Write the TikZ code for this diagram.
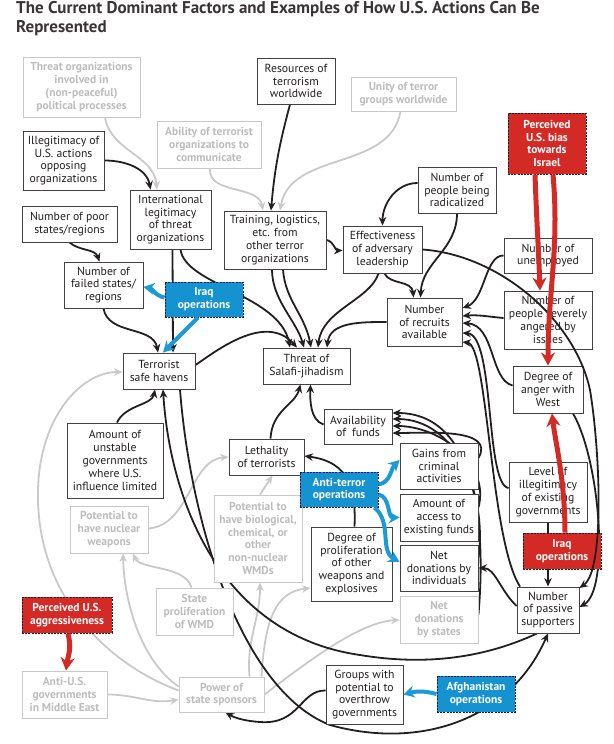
\documentclass[tikz,border=0pt]{standalone}
\usepackage{fontspec}
\setmainfont{PT Sans}
\usetikzlibrary{arrows.meta}
\pgfdeclarelayer{bg}
\pgfsetlayers{bg,main}
\definecolor{ink}{HTML}{231F20}
\definecolor{lgray}{HTML}{C9C9C9}
\definecolor{gtext}{HTML}{BDBDBD}
\definecolor{rfill}{HTML}{D42A26}
\definecolor{bfill}{HTML}{1592D0}
\definecolor{barrow}{HTML}{1C9AD6}
\tikzset{
  box/.style={draw=ink!85, line width=0.9pt, fill=white, align=center, inner sep=0pt, text=ink, font=\fontsize{11.7}{12.8}\selectfont},
  gbox/.style={box, draw=lgray, text=gtext, font=\fontsize{11.5}{12.8}\selectfont\bfseries},
  rbox/.style={box, fill=rfill, draw=ink, dash pattern=on 2pt off 1.2pt, text=white, font=\fontsize{11.5}{12.8}\selectfont\bfseries},
  bbox/.style={box, fill=bfill, draw=ink!70!blue, dash pattern=on 2pt off 1.2pt, text=white, font=\fontsize{11.5}{12.8}\selectfont\bfseries},
  arr/.style={draw=ink, line width=1.8pt, -{Stealth[length=8.5pt,width=7.5pt]}},
  garr/.style={draw=lgray, line width=1.8pt, -{Stealth[length=8.5pt,width=7.5pt]}},
  rarr/.style={draw=rfill, line width=5pt, -{Stealth[length=13pt,width=14pt]}},
  barr/.style={draw=barrow, line width=4pt, -{Stealth[length=11pt,width=12pt]}}
}
\begin{document}
\begin{tikzpicture}[x=1pt,y=-1pt]
\useasboundingbox (0,0) rectangle (613,744);
\node[anchor=north west, align=left, inner sep=0pt, text=ink!90, font=\fontsize{17}{18.5}\selectfont\bfseries] (title) at (16,1.5) {The Current Dominant Factors and Examples of How U.S. Actions Can Be\\Represented};

\node[gbox, minimum width=117pt, minimum height=60pt] (tpol) at (81.5,87) {Threat organizations\\involved in\\(non-peaceful)\\political processes};
\node[box, minimum width=81pt, minimum height=59pt] (illeg) at (63.5,160.5) {Illegitimacy of\\U.S. actions\\opposing\\organizations};
\node[gbox, minimum width=104pt, minimum height=47pt] (comm) at (209,144.5) {Ability of terrorist\\organizations to\\communicate};
\node[box, minimum width=78pt, minimum height=46pt] (res) at (296,81) {Resources of\\terrorism\\worldwide};
\node[gbox, minimum width=105pt, minimum height=34pt] (unity) at (403.5,94) {Unity of terror\\groups worldwide};
\node[rbox, minimum width=78pt, minimum height=61pt] (israel) at (547,143.5) {Perceived\\U.S. bias\\towards\\Israel};
\node[box, minimum width=78pt, minimum height=46pt] (radical) at (457,190) {Number of\\people being\\radicalized};
\node[box, minimum width=81pt, minimum height=59pt] (intl) at (170.5,219.5) {International\\legitimacy\\of threat\\organizations};
\node[box, minimum width=95pt, minimum height=36pt] (poor) at (69.5,224) {Number of poor\\states/regions};
\node[box, minimum width=102pt, minimum height=58pt] (train) at (275,240) {Training, logistics,\\etc. from\\other terror\\organizations};
\node[box, minimum width=79pt, minimum height=47pt] (eff) at (382.5,249.5) {Effectiveness\\of adversary\\leadership};
\node[box, minimum width=79pt, minimum height=46pt] (failed) at (103.5,285) {Number of\\failed states/\\regions};
\node[box, minimum width=88pt, minimum height=35pt] (unemp) at (548,255.5) {Number of\\unemployed};
\node[box, minimum width=75pt, minimum height=48pt] (recruits) at (424.5,322) {Number\\of recruits\\available};
\node[box, minimum width=88pt, minimum height=58pt] (angered) at (548,320) {Number of\\people severely\\angered by\\issues};
\node[box, minimum width=72pt, minimum height=36pt] (haven) at (159,371) {Terrorist\\safe havens};
\node[box, minimum width=87pt, minimum height=36pt] (threat) at (306.5,366) {Threat of\\Salafi-jihadism};
\node[box, minimum width=70pt, minimum height=47pt] (anger) at (548,389.5) {Degree of\\anger with\\West};
\node[box, minimum width=68pt, minimum height=35pt] (funds) at (358,426.5) {Availability\\of\ \ funds};
\node[box, minimum width=96pt, minimum height=75pt] (unstable) at (115,460.5) {Amount of\\unstable\\governments\\where U.S.\\influence limited};
\node[box, minimum width=75pt, minimum height=36pt] (lethal) at (266.5,457) {Lethality\\of terrorists};
\node[box, minimum width=78pt, minimum height=46pt] (crim) at (439,466) {Gains from\\criminal\\activities};
\node[box, minimum width=78pt, minimum height=60pt] (illexist) at (548,492) {Level of\\illegitimacy\\of existing\\governments};
\node[box, minimum width=78pt, minimum height=47pt] (access) at (439,517.5) {Amount of\\access to\\existing funds};
\node[gbox, minimum width=78pt, minimum height=47pt] (nuclear) at (109,529.5) {Potential to\\have nuclear\\weapons};
\node[gbox, minimum width=88pt, minimum height=87pt] (bio) at (258,538.5) {Potential to\\have biological,\\chemical, or\\other\\non-nuclear\\WMDs};
\node[box, minimum width=81pt, minimum height=74pt] (prolif) at (351.5,564) {Degree of\\proliferation\\of other\\weapons and\\explosives};
\node[box, minimum width=78pt, minimum height=46pt] (netind) at (439,568) {Net\\donations by\\individuals};
\node[box, minimum width=62pt, minimum height=46pt] (passive) at (548,610) {Number\\of passive\\supporters};
\node[gbox, minimum width=77pt, minimum height=47pt] (stateprolif) at (194.5,611.5) {State\\proliferation\\of WMD};
\node[gbox, minimum width=78pt, minimum height=47pt] (netstates) at (439,619.5) {Net\\donations\\by states};
\node[gbox, minimum width=85pt, minimum height=47pt] (antius) at (64.5,694.5) {Anti-U.S.\\governments\\in Middle East};
\node[gbox, minimum width=85pt, minimum height=35pt] (power) at (221.5,694.5) {Power of\\state sponsors};
\node[box, minimum width=77pt, minimum height=59pt] (groups) at (364.5,694.5) {Groups with\\potential to\\overthrow\\governments};

\begin{pgfonlayer}{bg}
% gray connectors
\draw[garr] ([xshift=23.5pt]tpol.south) to[out=-80,in=95] ([xshift=-13.5pt]intl.north);
\draw[garr] ([xshift=1pt]comm.south) to[out=-95,in=100] ([xshift=-12pt]train.north);
\draw[garr] ([xshift=-3pt]unity.south) to[out=-100,in=80] ([xshift=5pt]train.north);
\draw[garr] (antius.east) to[out=0,in=190] ([yshift=-5pt]power.west);
\draw[garr] ([yshift=4pt]power.west) .. controls (110,665) and (40,600) .. (38,500) .. controls (36,420) and (80,372) .. ([yshift=-1pt]haven.west);
\draw[garr] ([yshift=8pt]power.west) .. controls (140,660) and (124,600) .. ([xshift=14pt]nuclear.south);
\draw[garr] ([xshift=-3pt]stateprolif.north) .. controls (185,565) and (140,570) .. ([xshift=24pt]nuclear.south);
\draw[garr] ([xshift=28pt]power.north) to[out=95,in=-90] ([xshift=2pt]bio.south);
\draw[garr] ([xshift=40pt]power.north) .. controls (265,620) and (275,592) .. ([yshift=-24pt]prolif.west);
\draw[garr] (power.east) .. controls (310,660) and (360,622) .. ([yshift=-0.5pt]netstates.west);
\draw[garr] ([yshift=1pt]nuclear.east) .. controls (190,525) and (190,460) .. (lethal.west);
\draw[garr] ([xshift=2pt]bio.north) -- ([xshift=6pt]lethal.south);
% black connectors
\draw[arr] (illeg.east) to[out=0,in=100] ([xshift=-20pt]intl.north);
\draw[arr] ([xshift=-6pt]res.south) to[out=-105,in=85] ([xshift=-4pt]train.north);
\draw[arr] (poor.south) to[out=-40,in=110] ([xshift=-4pt]failed.north);
\draw[arr] (failed.south) to[out=-80,in=100] ([xshift=-1pt]haven.north);
\draw[arr] ([xshift=2pt]intl.south) -- ([xshift=14pt]haven.north);
\draw[arr] ([xshift=10pt]intl.south) .. controls (185,285) and (280,295) .. ([xshift=-16.5pt]threat.north);
\draw[arr] ([yshift=6pt]haven.east) .. controls (215,352) and (265,312) .. ([xshift=-9.5pt]threat.north);
\draw[arr] ([xshift=-3pt]train.south) .. controls (272,300) and (296,320) .. ([xshift=-2.5pt]threat.north);
\draw[arr] ([xshift=8pt]train.south) .. controls (285,300) and (305,315) .. ([xshift=4.5pt]threat.north);
\draw[arr] (train.east) to[out=-10,in=180] ([yshift=-1pt]eff.west);
\draw[arr] ([yshift=7pt]radical.west) to[out=180,in=90] (eff.north);
\draw[arr] (radical.south) .. controls (457,250) and (422,262) .. ([xshift=-4pt]recruits.north);
\draw[arr] ([xshift=2pt]eff.south) .. controls (390,285) and (412,280) .. ([xshift=-11pt]recruits.north);
\draw[arr] ([xshift=-4pt]eff.south) .. controls (370,300) and (322,310) .. ([xshift=11.5pt]threat.north);
\draw[arr] (recruits.west) .. controls (360,322) and (330,322) .. ([xshift=20.5pt]threat.north);
\draw[arr] (unemp.west) .. controls (485,255) and (485,300) .. ([yshift=14pt]recruits.east);
\draw[arr] ([yshift=2pt]angered.west) to[out=175,in=5] ([yshift=6pt]recruits.east);
\draw[arr] ([yshift=4pt]anger.west) .. controls (490,380) and (495,325) .. ([yshift=-1pt]recruits.east);
\draw[arr] ([yshift=4pt]illexist.west) .. controls (485,485) and (495,335) .. ([yshift=-11pt]recruits.east);
\draw[arr] ([xshift=-28pt]passive.north) .. controls (490,540) and (488,345) .. ([yshift=-20pt]recruits.east);
\draw[arr] ([yshift=4pt]passive.west) .. controls (500,590) and (495,568) .. (netind.east);
\draw[arr] (illexist.south) -- (passive.north);
\draw[arr] ([xshift=25pt]anger.south) .. controls (600,460) and (610,590) .. ([yshift=3pt]passive.east);
\draw[arr] ([yshift=8pt]crim.east) to[out=60,in=0] ([yshift=-6.5pt]funds.east);
\draw[arr] ([yshift=10pt]access.east) to[out=75,in=0] ([yshift=0.5pt]funds.east);
\draw[arr] ([yshift=10pt]netind.east) to[out=82,in=0] ([yshift=7.5pt]funds.east);
\draw[arr] ([yshift=5pt]netstates.east) to[out=85,in=0] ([yshift=13.5pt]funds.east);
\draw[arr] ([xshift=3pt]prolif.north) .. controls (356,490) and (350,462) .. ([yshift=1pt]lethal.east);
\draw[arr] ([xshift=4pt]lethal.north) .. controls (272,410) and (295,405) .. ([xshift=-6pt]threat.south);
\draw[arr] ([yshift=2pt]funds.west) .. controls (310,420) and (310,400) .. ([xshift=4pt]threat.south);
\draw[arr] ([xshift=2pt]unstable.north) .. controls (125,405) and (152,405) .. ([xshift=-4pt]haven.south);
\draw[arr] ([xshift=-11pt]passive.south) .. controls (480,660) and (420,665) .. (360,655) .. controls (220,635) and (170,500) .. ([xshift=4pt]haven.south);
\draw[arr] ([xshift=21pt]haven.south) .. controls (190,520) and (240,690) .. (330,725) .. controls (420,750) and (510,720) .. (passive.south);
\draw[arr] ([yshift=4pt]groups.west) .. controls (300,690) and (300,725) .. (260,722) .. controls (245,721) and (235,718) .. ([xshift=4pt]power.south);
\end{pgfonlayer}

\node[bbox, minimum width=78pt, minimum height=35pt] (iraqA) at (204,299.5) {Iraq\\operations};
\node[bbox, minimum width=78pt, minimum height=35pt] (antiterror) at (339,489.5) {Anti-terror\\operations};
\node[rbox, minimum width=78pt, minimum height=36pt] (iraqB) at (562,551) {Iraq\\operations};
\node[rbox, minimum width=90pt, minimum height=36pt] (aggr) at (67,615) {Perceived U.S.\\aggressiveness};
\node[bbox, minimum width=78pt, minimum height=36pt] (afgh) at (476,694) {Afghanistan\\operations};

\draw[arr] (eff.east) .. controls (500,255) and (575,320) .. (590,390) .. controls (600,450) and (605,570) .. ([yshift=22pt]passive.east);

\draw[rarr] ([xshift=-12pt]israel.south) to[out=-88,in=92] ([xshift=-8pt]angered.north);
\draw[rarr] ([xshift=6pt]israel.south) to[out=-85,in=90] (anger.north);
\draw[rarr] ([xshift=3pt]iraqB.north) .. controls (565,480) and (555,440) .. ([xshift=4pt]anger.south);
\draw[rarr] ([xshift=1pt]aggr.south) .. controls (72,650) and (68,655) .. ([xshift=1.5pt]antius.north);

\draw[barr] ([yshift=2pt]iraqA.west) to[out=170,in=-10] ([yshift=-2pt]failed.east);
\draw[barr] ([xshift=-6pt]iraqA.south) -- ([xshift=4pt]haven.north);
\draw[barr] ([yshift=5pt]antiterror.east) to[out=10,in=-135] ([yshift=6pt]crim.west);
\draw[barr] ([yshift=-5pt]antiterror.east) to[out=-10,in=180] (access.west);
\draw[barr] ([xshift=-4pt]antiterror.south east) to[out=-40,in=150] ([yshift=6pt]netind.west);
\draw[barr] (afgh.west) to[out=165,in=15] (groups.east);
\end{tikzpicture}
\end{document}
